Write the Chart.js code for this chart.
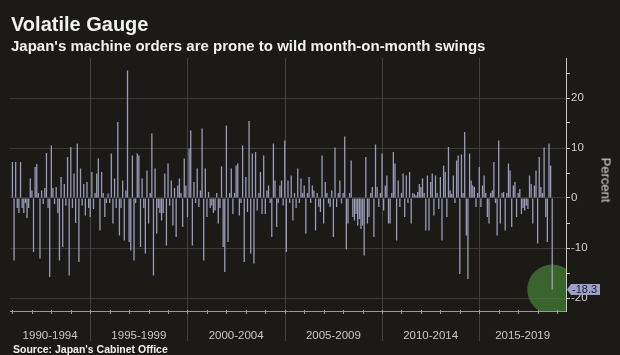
<!DOCTYPE html>
<html><head><meta charset="utf-8">
<script src="https://cdn.jsdelivr.net/npm/chart.js@4.4.0/dist/chart.umd.min.js"></script>
<style>
html,body{margin:0;padding:0;background:#1b1a17;}
#wrap{position:relative;width:620px;height:355px;overflow:hidden;background:#1b1a17;font-family:"Liberation Sans",Arial,sans-serif;}
#c{position:absolute;left:0;top:0;}
.t{position:absolute;color:#f2f2f2;font-weight:bold;white-space:nowrap;}
#title{left:11px;top:14px;font-size:20px;line-height:20px;}
#sub{left:11px;top:38px;font-size:15px;line-height:15px;}
#src{left:13px;top:344px;font-size:10.5px;line-height:11px;}
#pct{position:absolute;left:606px;top:180px;color:#dcdcdc;font-size:13px;line-height:13px;white-space:nowrap;transform:translate(-50%,-50%) rotate(90deg);}
</style>
</head><body>
<div id="wrap">
<canvas id="c" width="620" height="355"></canvas>
<div class="t" id="title">Volatile Gauge</div>
<div class="t" id="sub">Japan's machine orders are prone to wild month-on-month swings</div>
<div class="t" id="src">Source: Japan's Cabinet Office</div>
<div id="pct">Percent</div>
</div>
<script>
// Monthly % change in machine orders, Jan 1991 - Oct 2018
const startYear = 1991;
const orders1991_1994 = [7.2,-12.5,7.2,-2,-3,7.2,-2,-3,-1,-4,-2,3.9, 1.5,-10.8,6.2,6.8,1,-12.1,1.5,-1.2,2,9,-2,-15.8,
  10.5,2,-1.2,2.2,-3,-12.5,4.2,-9.8,2.8,-1.5,8.2,-15.5, 10.2,-2,4.9,-5,10.9,-12.8,5.9,-1.5,2.8,-3.5,3.2,-2];
const orders1995_1999 = [-3.8,5.2,-2.2,1,4.9,7.9,-6.5,5.2,1,-3.8,-1,0.9, -1,8.9,-5.1,3.9,-2,15.2,-7.5,-2,3.5,-8.5,1.5,25.5,
  -8.8,-10.5,8.5,-12.5,-1,8.9,8.5,-9.8,3.9,-2,-11.1,5.5, -5.1,1,12.9,-15.5,5.9,-7.1,-2,-3,-4.5,-3,4.9,-9.5,
  6.9,-1.5,3.5,-5.5,2,-7.8,2.5,3.9,1,-5.8,7.9,2.5];
const orders2000_2004 = [-3.8,9.9,13.5,-9.5,3.2,-1,5.9,-1.8,1.5,13.9,-12.5,5.9, -3.8,1.2,-2,-1.5,-3,-2.5,1,-5.1,-2,6.3,-9.8,-14.8,
  14.5,-8.8,1,5.9,-3.2,1,6.5,6.9,-3.5,-1,10.5,-12.8, 4.2,-2.8,15.4,-11.1,8.9,-13.1,9.2,-2.5,1,5.2,-3.2,8.5,
  -3.2,1.5,2.5,-1,-7.8,10.9,3.5,-5.8,-1,2.5,3.5,-1.5];
const orders2005_2009 = [11.5,-10.8,3.5,-1,4.5,-4.5,1,-2,5.9,-1,3.9,1, 2.5,-7.1,1,4.2,-1,2.5,1.5,-6.5,1,-1.8,-2.8,8.5,
  -5.1,3.2,1,-1.1,-1.8,1.5,-7.8,10.1,-1.8,1,3.5,-1.1, 1,12.3,-10.3,-5.1,1,7.5,-3.8,-4.5,-3.2,-5.5,-4.2,-6.2,
  -5.5,-11.5,8.2,-5.1,-3.8,1,2.2,-7.8,10.7,2.2,-1.8,1];
const orders2010_2014 = [8.9,-2.5,2.5,4.5,-5.1,-5.1,1,9.2,6.9,-8.5,3.5,-1.8, 1,4.9,-3.8,4.5,-1,5.2,-5.1,1,0.8,0.5,1.2,2.8,
  2.2,3.9,1,-6.5,4.5,-6.5,3.2,4.9,-3.5,4.5,1,-2.2, 4.2,-8.5,6.5,5.2,-3.8,10.2,1.5,0.8,4.5,-1,7.5,8.5,
  -15.2,8.7,1,13.2,-7.5,-16.2,8.9,3.5,2.5,2.2,-1.8,1];
const orders2015_2018 = [6.2,-1.8,2.5,4.5,1,-3.8,-5.1,1,1.5,7.2,-1,-7.5, 11.5,-5.1,1,1.2,-6.5,1,6.9,5.5,-5.8,2.5,3.2,-3.8,
  1,1.8,-3.2,-2,-2.5,-1.5,-2.2,4.5,2.8,-5.1,2.5,5.5, -9.1,8.2,2.2,1,10.1,-3.8,-8.8,10.9,6.5,-18.3];

const periodLabels = ['1990-1994','1995-1999','2000-2004','2005-2009','2010-2014','2015-2019'];
const periodStartYears = [1990,1995,2000,2005,2010,2015];
const yTickValues = [-20,-15,-10,-5,0,5,10,15,20,25];

const values = [].concat(orders1991_1994, orders1995_1999, orders2000_2004, orders2005_2009, orders2010_2014, orders2015_2018);
const leadPad = 1, tailPad = 8;
const monthNames = ['Jan','Feb','Mar','Apr','May','Jun','Jul','Aug','Sep','Oct','Nov','Dec'];
const labels = [];
for (let k = -leadPad; k < values.length + tailPad; k++) {
  const y = startYear + Math.floor(k / 12);
  const m = ((k % 12) + 12) % 12;
  labels.push(monthNames[m] + ' ' + y);
}
const barData = labels.map((_, i) => { const j = i - leadPad; return (j >= 0 && j < values.length) ? values[j] : null; });
const lastIdx = leadPad + values.length - 1;
const lastValue = values[values.length - 1];
const circleData = labels.map((_, i) => i === lastIdx ? lastValue : null);
const yearIndex = (yr) => (yr - startYear) * 12 + leadPad;

const decor = {
  id: 'decor',
  beforeDatasetsDraw(chart) {
    const {ctx, chartArea: a, scales: {x}} = chart;
    ctx.save();
    ctx.strokeStyle = '#42413c';
    ctx.lineWidth = 1;
    periodStartYears.forEach(yr => {
      const idx = yearIndex(yr);
      if (idx < 0 || idx >= labels.length) return;
      const px = Math.round(x.getPixelForValue(idx)) + 0.5;
      ctx.beginPath(); ctx.moveTo(px, a.top); ctx.lineTo(px, a.bottom + 30); ctx.stroke();
    });
    ctx.restore();
  },
  afterDraw(chart) {
    const {ctx, chartArea: a, scales: {x, y}} = chart;
    ctx.save();
    // year ticks
    ctx.strokeStyle = '#9a9a9a';
    for (let yr = startYear; yr <= startYear + 40; yr++) {
      const idx = yearIndex(yr);
      if (idx >= labels.length) break;
      const px = Math.round(x.getPixelForValue(idx)) + 0.5;
      ctx.beginPath(); ctx.moveTo(px, a.bottom - 1); ctx.lineTo(px, a.bottom + 3); ctx.stroke();
    }
    // period labels
    ctx.fillStyle = '#c9c9c9';
    ctx.font = '11.5px "Liberation Sans", Arial, sans-serif';
    ctx.textAlign = 'center';
    ctx.textBaseline = 'middle';
    periodLabels.forEach((lab, p) => {
      const s = yearIndex(periodStartYears[p]);
      const e = yearIndex(periodStartYears[p] + 5);
      const left = s < 0 ? a.left : Math.max(a.left, x.getPixelForValue(s));
      const right = e >= labels.length ? a.right : Math.min(a.right, x.getPixelForValue(e));
      ctx.fillText(lab, (left + right) / 2, a.bottom + 25);
    });
    // value tag
    const ty = y.getPixelForValue(lastValue);
    const tx = a.right + 1;
    ctx.fillStyle = '#9c9fc8';
    ctx.beginPath();
    ctx.moveTo(tx, ty);
    ctx.lineTo(tx + 4, ty - 5.5);
    ctx.lineTo(tx + 33, ty - 5.5);
    ctx.lineTo(tx + 33, ty + 5.5);
    ctx.lineTo(tx + 4, ty + 5.5);
    ctx.closePath();
    ctx.fill();
    ctx.fillStyle = '#1e1e30';
    ctx.font = '11px "Liberation Sans", Arial, sans-serif';
    ctx.textAlign = 'left';
    ctx.fillText(lastValue.toFixed(1), tx + 5, ty + 0.5);
    ctx.restore();
  }
};

new Chart(document.getElementById('c'), {
  data: {
    labels: labels,
    datasets: [
      { type: 'bar', data: barData, backgroundColor: '#9a9cba', borderWidth: 0,
        barPercentage: 0.8, categoryPercentage: 1.0, order: 0 },
      { type: 'line', data: circleData, showLine: false, pointRadius: 25, pointHoverRadius: 25,
        pointBackgroundColor: 'rgba(72,128,56,0.72)', pointBorderWidth: 0, clip: 0, order: 1 }
    ]
  },
  options: {
    responsive: false,
    animation: false,
    events: [],
    layout: { autoPadding: false, padding: { top: 58, left: 10, right: 0, bottom: 0 } },
    plugins: { legend: { display: false }, tooltip: { enabled: false }, title: { display: false } },
    scales: {
      x: {
        type: 'category',
        offset: true,
        grid: { display: false },
        border: { display: true, color: '#9a9a9a', width: 1 },
        ticks: { display: false },
        afterFit(s) { s.height = 44; }
      },
      y: {
        position: 'right',
        min: -22.6, max: 28,
        afterBuildTicks(s) { s.ticks = yTickValues.map(v => ({ value: v })); },
        afterFit(s) { s.width = 54; },
        border: { display: true, color: '#c8c8c8', width: 1 },
        grid: {
          color: c => (c.tick && c.tick.value % 10 === 0) ? '#3a3935' : 'rgba(0,0,0,0)',
          tickColor: '#c8c8c8',
          tickLength: 4,
          drawTicks: true
        },
        ticks: {
          color: '#d0d0d0',
          padding: 1,
          font: { size: 11.5, family: '"Liberation Sans", Arial, sans-serif' },
          callback: v => (v % 10 === 0 ? String(v) : '')
        }
      }
    }
  },
  plugins: [decor]
});
</script>
</body></html>
